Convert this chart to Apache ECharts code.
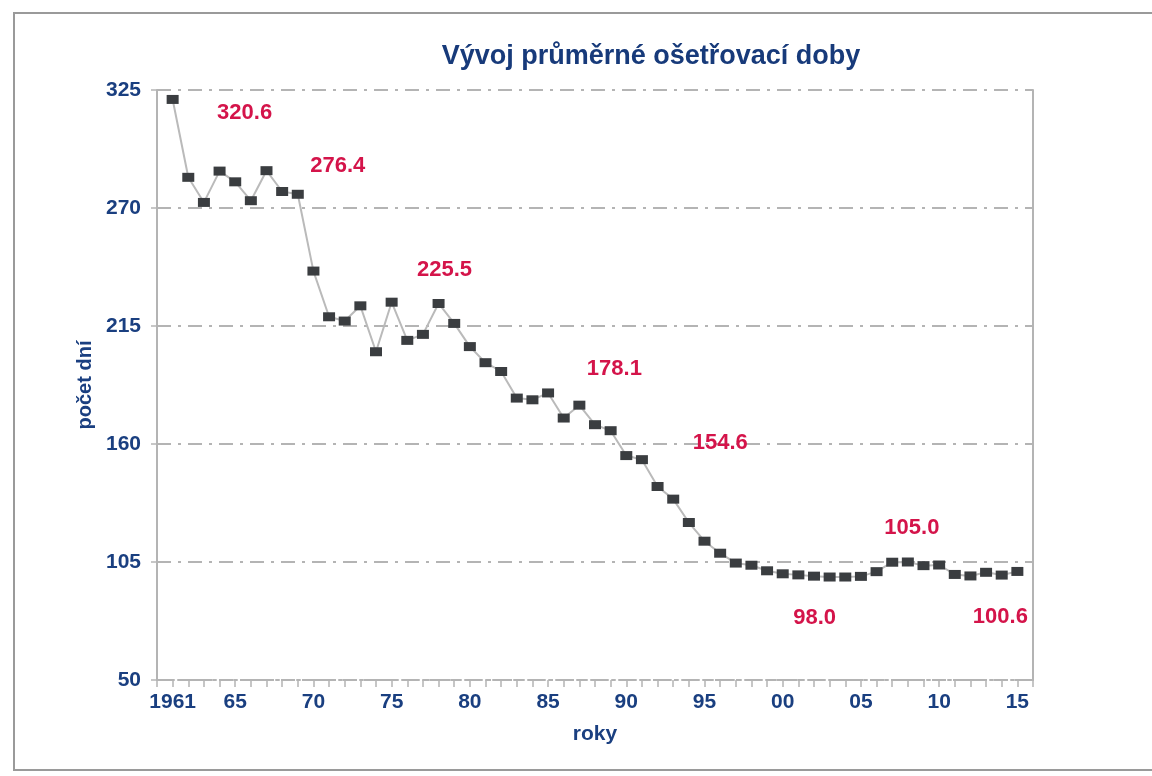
<!DOCTYPE html>
<html>
<head>
<meta charset="utf-8">
<script src="https://cdn.jsdelivr.net/npm/echarts@6/dist/echarts.min.js"></script>
<style>
  html, body { margin: 0; padding: 0; background: #fff; }
  #chart { width: 1152px; height: 776px; }
</style>
</head>
<body>
<div id="chart"></div>
<script>
// roky 1961 - 2015
var years = [];
for (var y = 1961; y <= 2015; y++) years.push(y);

// průměrná ošetřovací doba (dny)
var days = [
  320.6, 284.3, 272.6, 287.2, 282.2, 273.4, 287.4, 277.7, 276.4, 240.6,
  219.3, 217.3, 224.4, 203.0, 226.1, 208.3, 211.1, 225.5, 216.2, 205.4,
  197.9, 193.8, 181.4, 180.6, 183.8, 172.1, 178.1, 169.0, 166.2, 154.6,
  152.7, 140.2, 134.3, 123.4, 114.7, 109.1, 104.5, 103.5, 100.9, 99.5,
  99.0, 98.4, 98.0, 98.0, 98.3, 100.5, 104.9, 105.0, 103.3, 103.6,
  99.2, 98.5, 100.2, 98.9, 100.6
];

// roky s popiskem hodnoty
var noteYears = [1961, 1969, 1978, 1987, 1990, 2003, 2008, 2015];

// posun popisku od bodu (px)
var noteOffset = {
  1961: [72, 13], 1969: [40, -28], 1978: [6, -34], 1987: [35, -36],
  1990: [94, -13], 2003: [-15, 41], 2008: [4, -34], 2015: [-17, 45]
};

var navy = '#1a3f80';
var gridGray = '#b4b4b4';
var font = 'Liberation Sans, Arial, sans-serif';

var seriesData = years.map(function (yr, i) {
  var item = { value: [yr, days[i]] };
  if (noteYears.indexOf(yr) >= 0) {
    item.label = {
      show: true,
      position: 'inside',
      offset: noteOffset[yr],
      formatter: function (p) { return p.value[1].toFixed(1); },
      color: '#d4144a',
      fontSize: 22,
      fontWeight: 'bold',
      fontFamily: font
    };
  }
  return item;
});

var chart = echarts.init(document.getElementById('chart'));
chart.setOption({
  backgroundColor: '#fff',
  animation: false,
  title: {
    text: 'Vývoj průměrné ošetřovací doby',
    left: 646,
    textAlign: 'center',
    top: 38,
    textStyle: {
      color: '#173a7a',
      fontSize: 27,
      fontWeight: 'bold',
      fontFamily: font
    }
  },
  graphic: [{
    type: 'rect',
    shape: { x: 14, y: 13, width: 1160, height: 757 },
    style: { fill: 'none', stroke: '#9a9a9a', lineWidth: 2 },
    silent: true
  }],
  grid: { left: 157, right: 119, top: 90, bottom: 96 },
  xAxis: {
    type: 'value',
    min: 1960,
    max: 2016,
    interval: 1,
    name: 'roky',
    nameLocation: 'middle',
    nameGap: 44,
    nameTextStyle: { color: navy, fontSize: 21, fontWeight: 'bold', fontFamily: font },
    axisLine: { show: true, lineStyle: { color: gridGray, width: 2, type: [10, 4, 3, 4] } },
    axisTick: { show: true, length: 7, lineStyle: { color: gridGray, width: 1.5 } },
    splitLine: { show: false },
    axisLabel: {
      margin: 12,
      color: navy,
      fontSize: 21,
      fontWeight: 'bold',
      fontFamily: font,
      formatter: function (v) {
        if (v === 1961) return '1961';
        if (v >= 1965 && v % 5 === 0) return String(v % 100).padStart(2, '0');
        return '';
      }
    }
  },
  yAxis: [{
    type: 'value',
    min: 50,
    max: 325,
    interval: 55,
    name: 'počet dní',
    nameLocation: 'middle',
    nameGap: 56,
    nameTextStyle: { color: navy, fontSize: 20, fontWeight: 'bold', fontFamily: font },
    axisLine: { show: true, lineStyle: { color: gridGray, width: 2 } },
    axisTick: { show: true, length: 8, lineStyle: { color: gridGray, width: 1.5, type: 'dashed' } },
    axisLabel: {
      margin: 16,
      color: navy,
      fontSize: 21,
      fontWeight: 'bold',
      fontFamily: font
    },
    splitLine: { show: true, lineStyle: { color: gridGray, width: 2, type: [14, 7, 3, 7] } }
  }, {
    type: 'value',
    position: 'right',
    min: 50,
    max: 325,
    interval: 55,
    axisLine: { show: true, lineStyle: { color: gridGray, width: 2 } },
    axisTick: { show: false },
    axisLabel: { show: false },
    splitLine: { show: false }
  }],
  series: [{
    type: 'line',
    data: seriesData,
    symbol: 'rect',
    symbolSize: [12, 9],
    itemStyle: { color: '#3a3d40' },
    lineStyle: { color: '#bababa', width: 2 },
    label: { show: false },
    z: 3
  }]
});
</script>
</body>
</html>
